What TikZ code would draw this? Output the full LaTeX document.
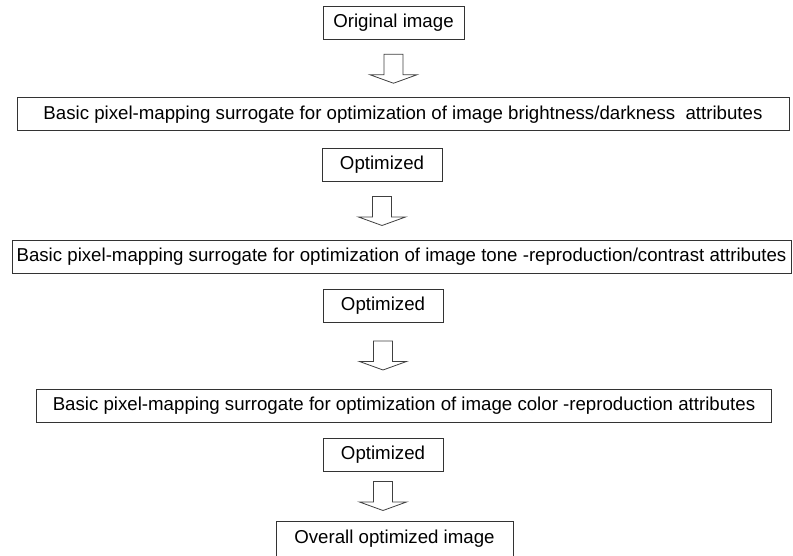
\documentclass[tikz,border=0pt]{standalone}
\usepackage{fontspec}
\setmainfont{Liberation Sans}
\usetikzlibrary{positioning, calc}

\tikzset{
  stagebox/.style={draw=black!80, line width=0.75pt, rectangle, inner sep=0pt,
    minimum height=24.75pt, font=\fontsize{14}{16}\selectfont},
  hollowarrow/.style={draw=black!75, line width=0.6pt, fill=white, line join=miter},
}

\begin{document}
\begin{tikzpicture}[x=0.75pt, y=-0.75pt]
\useasboundingbox (0,0) rectangle (793,556);

% Input image
\node[stagebox, minimum width=105.75pt] (orig) at (393.5,23) {Original image};

% Stage 1: brightness
\node[stagebox, minimum width=579pt] (bright) at (403,114.5) {Basic pixel-mapping surrogate for optimization of image brightness/darkness\ \ attributes};
\node[stagebox, minimum width=90pt] (opt1) at (382,165) {Optimized};

% Stage 2: tone
\node[stagebox, minimum width=584.25pt] (tone) at (401.5,257) {Basic pixel-mapping surrogate for optimization of image tone -reproduction/contrast attributes};
\node[stagebox, minimum width=90pt] (opt2) at (383,305.5) {Optimized};

% Stage 3: color
\node[stagebox, minimum width=551.25pt] (color) at (404,405.5) {Basic pixel-mapping surrogate for optimization of image color -reproduction attributes};
\node[stagebox, minimum width=90pt] (opt3) at (383,454.5) {Optimized};

% Output
\node[stagebox, minimum width=177.75pt, minimum height=27pt] (final) at (394.5,539) {Overall optimized image};

% Block arrows
\foreach \a/\b in {orig/bright, opt1/tone, opt2/color, opt3/final}{
  \coordinate (m) at ($(\a.south)!0.5!(\a.south|-\b.north)$);
  \draw[hollowarrow, shift={(m)}] (-9.5,-14.5) -- (9.5,-14.5) -- (9.5,6) -- (23.5,6)
    -- (0,14.5) -- (-23.5,6) -- (-9.5,6) -- cycle;
}
\end{tikzpicture}
\end{document}
